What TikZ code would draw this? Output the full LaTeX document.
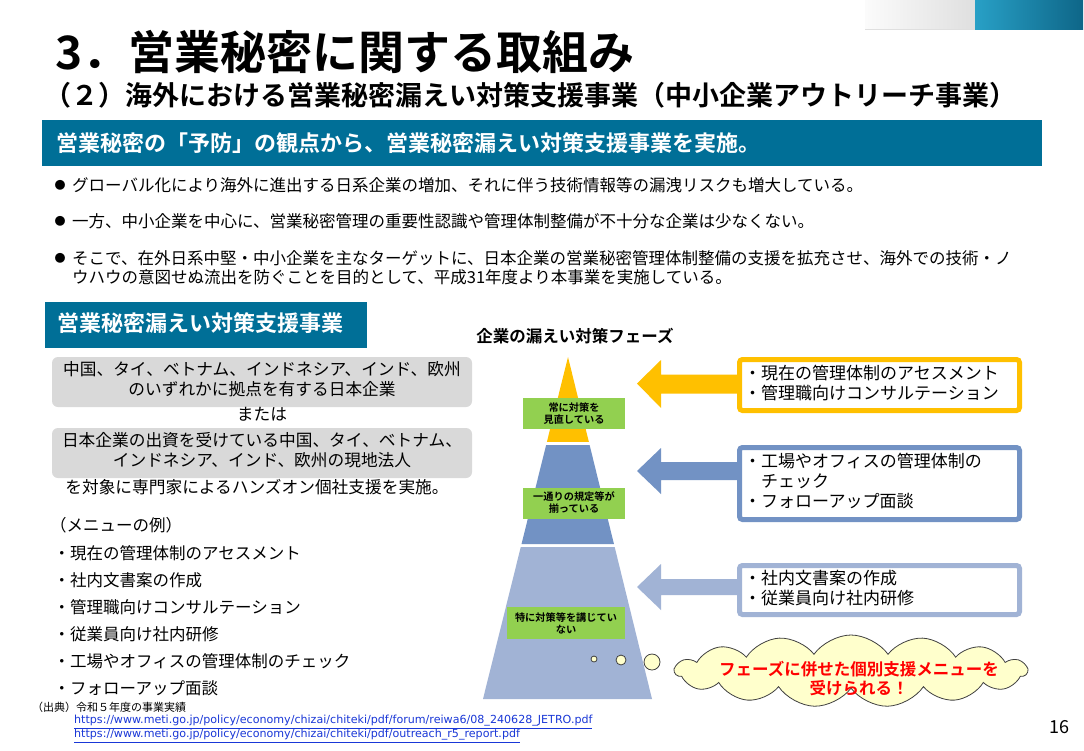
\documentclass[tikz,border=0pt]{standalone}
\usepackage{fontspec}
\setmainfont{Noto Sans CJK JP}[BoldFont={Noto Sans CJK JP Bold}]
\newfontfamily\urlfont{DejaVu Sans}
\usetikzlibrary{shapes.symbols,calc}
\definecolor{barblue}{RGB}{0,111,151}
\definecolor{yel}{RGB}{255,192,0}
\definecolor{midb}{RGB}{114,146,196}
\definecolor{lightb}{RGB}{161,179,213}
\definecolor{grn}{RGB}{146,208,80}
\definecolor{boxgray}{RGB}{217,217,217}
\definecolor{cloudfill}{RGB}{255,255,204}
\definecolor{linkblue}{RGB}{25,55,215}
\definecolor{cloudred}{RGB}{255,0,0}
\tikzset{
  txt/.style={inner sep=0pt, anchor=west, font=\fontsize{16.5}{20}\selectfont},
  ctxt/.style={inner sep=0pt, align=center, font=\fontsize{16.7}{20}\selectfont},
  bartxt/.style={inner sep=0pt, anchor=west, text=white, font=\fontsize{22}{26}\selectfont\bfseries},
  graybox/.style={fill=boxgray, draw=none, rounded corners=6pt, minimum width=420pt, minimum height=50pt},
  phasebox/.style={fill=white, line width=5pt, rounded corners=3pt, minimum width=280pt},
  boxtxt/.style={inner sep=0pt, anchor=west, align=left, font=\fontsize{17}{20}\selectfont},
  greenlabel/.style={fill=grn, inner sep=0pt, align=center, font=\fontsize{10.2}{12}\selectfont\bfseries},
  bubble/.style={draw=black!75, fill=cloudfill, line width=0.8pt},
  bul/.style={inner sep=0pt, font=\fontsize{11}{11}\selectfont},
  urltxt/.style={inner sep=0pt, anchor=west, text=linkblue, font=\urlfont\fontsize{11.1}{13}\selectfont},
}
\begin{document}
\begin{tikzpicture}[x=1pt,y=-1pt]
\useasboundingbox (0,0) rectangle (1084,750);
\fill[white] (0,0) rectangle (1084,750);
% header decoration
\shade[left color=white!97!gray, right color=gray!25] (865,0) rectangle (975,29);
\shade[left color={rgb,255:red,40;green,160;blue,198}, right color={rgb,255:red,14;green,102;blue,136}] (975,0) rectangle (1083,29);
\draw[gray!25, line width=1pt] (865,29.5) -- (975,29.5);
% titles
\node[inner sep=0pt, anchor=west, font=\fontsize{46}{52}\selectfont\bfseries] (title) at (55,52) {3．営業秘密に関する取組み};
\node[inner sep=0pt, anchor=west, font=\fontsize{27}{31}\selectfont\bfseries] (subtitle) at (44,95) {（２）海外における営業秘密漏えい対策支援事業（中小企業アウトリーチ事業）};
% top bar
\node[fill=barblue, minimum width=1000pt, minimum height=46pt, inner sep=0pt] (bar1) at (542,143) {};
\node[bartxt] (bar1t) at (56,143) {営業秘密の「予防」の観点から、営業秘密漏えい対策支援事業を実施。};
% bullets
\node[bul] (b1) at (60,185) {●};
\node[txt] (t1) at (72,185) {グローバル化により海外に進出する日系企業の増加、それに伴う技術情報等の漏洩リスクも増大している。};
\node[bul] (b2) at (60,221) {●};
\node[txt] (t2) at (72,221) {一方、中小企業を中心に、営業秘密管理の重要性認識や管理体制整備が不十分な企業は少なくない。};
\node[bul] (b3) at (60,258) {●};
\node[txt] (t3) at (72,258) {そこで、在外日系中堅・中小企業を主なターゲットに、日本企業の営業秘密管理体制整備の支援を拡充させ、海外での技術・ノ};
\node[txt] (t3b) at (72,277) {ウハウの意図せぬ流出を防ぐことを目的として、平成31年度より本事業を実施している。};
% left panel
\node[fill=barblue, minimum width=322pt, minimum height=46pt, inner sep=0pt] (bar2) at (206,325) {};
\node[bartxt] (bar2t) at (57,323) {営業秘密漏えい対策支援事業};
\node[graybox] (g1) at (262,382) {};
\node[ctxt] (g1t) at (262,379) {中国、タイ、ベトナム、インドネシア、インド、欧州\\のいずれかに拠点を有する日本企業};
\node[ctxt] (mata) at (262,414) {または};
\node[graybox] (g2) at (262,453) {};
\node[ctxt] (g2t) at (262,450) {日本企業の出資を受けている中国、タイ、ベトナム、\\インドネシア、インド、欧州の現地法人};
\node[ctxt] (taisho) at (257,487) {を対象に専門家によるハンズオン個社支援を実施。};
\node[txt] (mhead) at (50,525) {（メニューの例）};
\node[txt] (m1) at (53.5,553) {・現在の管理体制のアセスメント};
\node[txt] (m2) at (53.5,580) {・社内文書案の作成};
\node[txt] (m3) at (53.5,607) {・管理職向けコンサルテーション};
\node[txt] (m4) at (53.5,634) {・従業員向け社内研修};
\node[txt] (m5) at (53.5,661) {・工場やオフィスの管理体制のチェック};
\node[txt] (m6) at (53.5,688) {・フォローアップ面談};
% source
\node[inner sep=0pt, anchor=west, font=\fontsize{11}{13}\selectfont] (src) at (32,707) {（出典）令和５年度の事業実績};
\node[urltxt] (u1) at (74,722) {\underline{https://www.meti.go.jp/policy/economy/chizai/chiteki/pdf/forum/reiwa6/08\_240628\_JETRO.pdf}};
\node[urltxt] (u2) at (74,736) {\underline{https://www.meti.go.jp/policy/economy/chizai/chiteki/pdf/outreach\_r5\_report.pdf}};
\node[inner sep=0pt, font=\fontsize{18}{20}\selectfont] (pg) at (1059,727) {16};
% pyramid
\node[inner sep=0pt, font=\fontsize{16.5}{20}\selectfont\bfseries] (phase) at (575,336) {企業の漏えい対策フェーズ};
\coordinate (A) at (568,357);
\coordinate (BL) at (483,699);
\coordinate (BR) at (652,699);
\fill[yel] (A) -- ($(A)!0.2485!(BR)$) -- ($(A)!0.2485!(BL)$) -- cycle;
\fill[midb] ($(A)!0.2573!(BL)$) -- ($(A)!0.2573!(BR)$) -- ($(A)!0.5468!(BR)$) -- ($(A)!0.5468!(BL)$) -- cycle;
\fill[lightb] ($(A)!0.5556!(BL)$) -- ($(A)!0.5556!(BR)$) -- (BR) -- (BL) -- cycle;
\node[greenlabel, minimum width=102pt, minimum height=31pt] (L1) at (574,413.5) {常に対策を\\見直している};
\node[greenlabel, minimum width=102pt, minimum height=31pt] (L2) at (574,503) {一通りの規定等が\\揃っている};
\node[greenlabel, minimum width=118pt, minimum height=32pt] (L3) at (566,623) {特に対策等を講じてい\\ない};
% arrows
\coordinate (ytip) at (637,383.5);
\coordinate (btip) at (637,471);
\coordinate (ltip) at (637,587);
\fill[yel] (ytip) -- ++(24,-23.5) -- ++(0,14.5) -- ++(90,0) -- ++(0,19) -- ++(-90,0) -- ++(0,14.5) -- cycle;
\fill[midb] (btip) -- ++(24,-23) -- ++(0,14) -- ++(90,0) -- ++(0,18) -- ++(-90,0) -- ++(0,14) -- cycle;
\fill[lightb] (ltip) -- ++(24,-23) -- ++(0,15) -- ++(90,0) -- ++(0,16) -- ++(-90,0) -- ++(0,15) -- cycle;
% phase boxes
\node[phasebox, draw=yel, minimum height=51pt] (yb) at (879.5,385) {};
\node[phasebox, draw=midb, minimum height=72pt] (bb) at (879.5,483.5) {};
\node[phasebox, draw=lightb, minimum height=49pt] (lb) at (879.5,590) {};
\node[boxtxt] (yb1) at (744,373) {・現在の管理体制のアセスメント};
\node[boxtxt] (yb2) at (744,393) {・管理職向けコンサルテーション};
\node[boxtxt] (bb1) at (744,461) {・工場やオフィスの管理体制の};
\node[boxtxt] (bb2) at (744,481) {　チェック};
\node[boxtxt] (bb3) at (744,501) {・フォローアップ面談};
\node[boxtxt] (lb1) at (744,578) {・社内文書案の作成};
\node[boxtxt] (lb2) at (744,598) {・従業員向け社内研修};
% thought bubbles and cloud
\node[bubble, circle, minimum size=6pt, inner sep=0pt] (c1) at (594,659) {};
\node[bubble, circle, minimum size=10pt, inner sep=0pt] (c2) at (621,660) {};
\node[bubble, circle, minimum size=16pt, inner sep=0pt] (c3) at (652,662) {};
\node[bubble, cloud, cloud puffs=15, cloud puff arc=110, aspect=5, minimum width=352pt, minimum height=72pt, inner sep=0pt] (cloud) at (851,671) {};
\node[inner sep=0pt, align=center, text=cloudred, font=\fontsize{16.5}{19}\selectfont\bfseries] (cloudt) at (859,679) {フェーズに併せた個別支援メニューを\\受けられる！};
\end{tikzpicture}
\end{document}
